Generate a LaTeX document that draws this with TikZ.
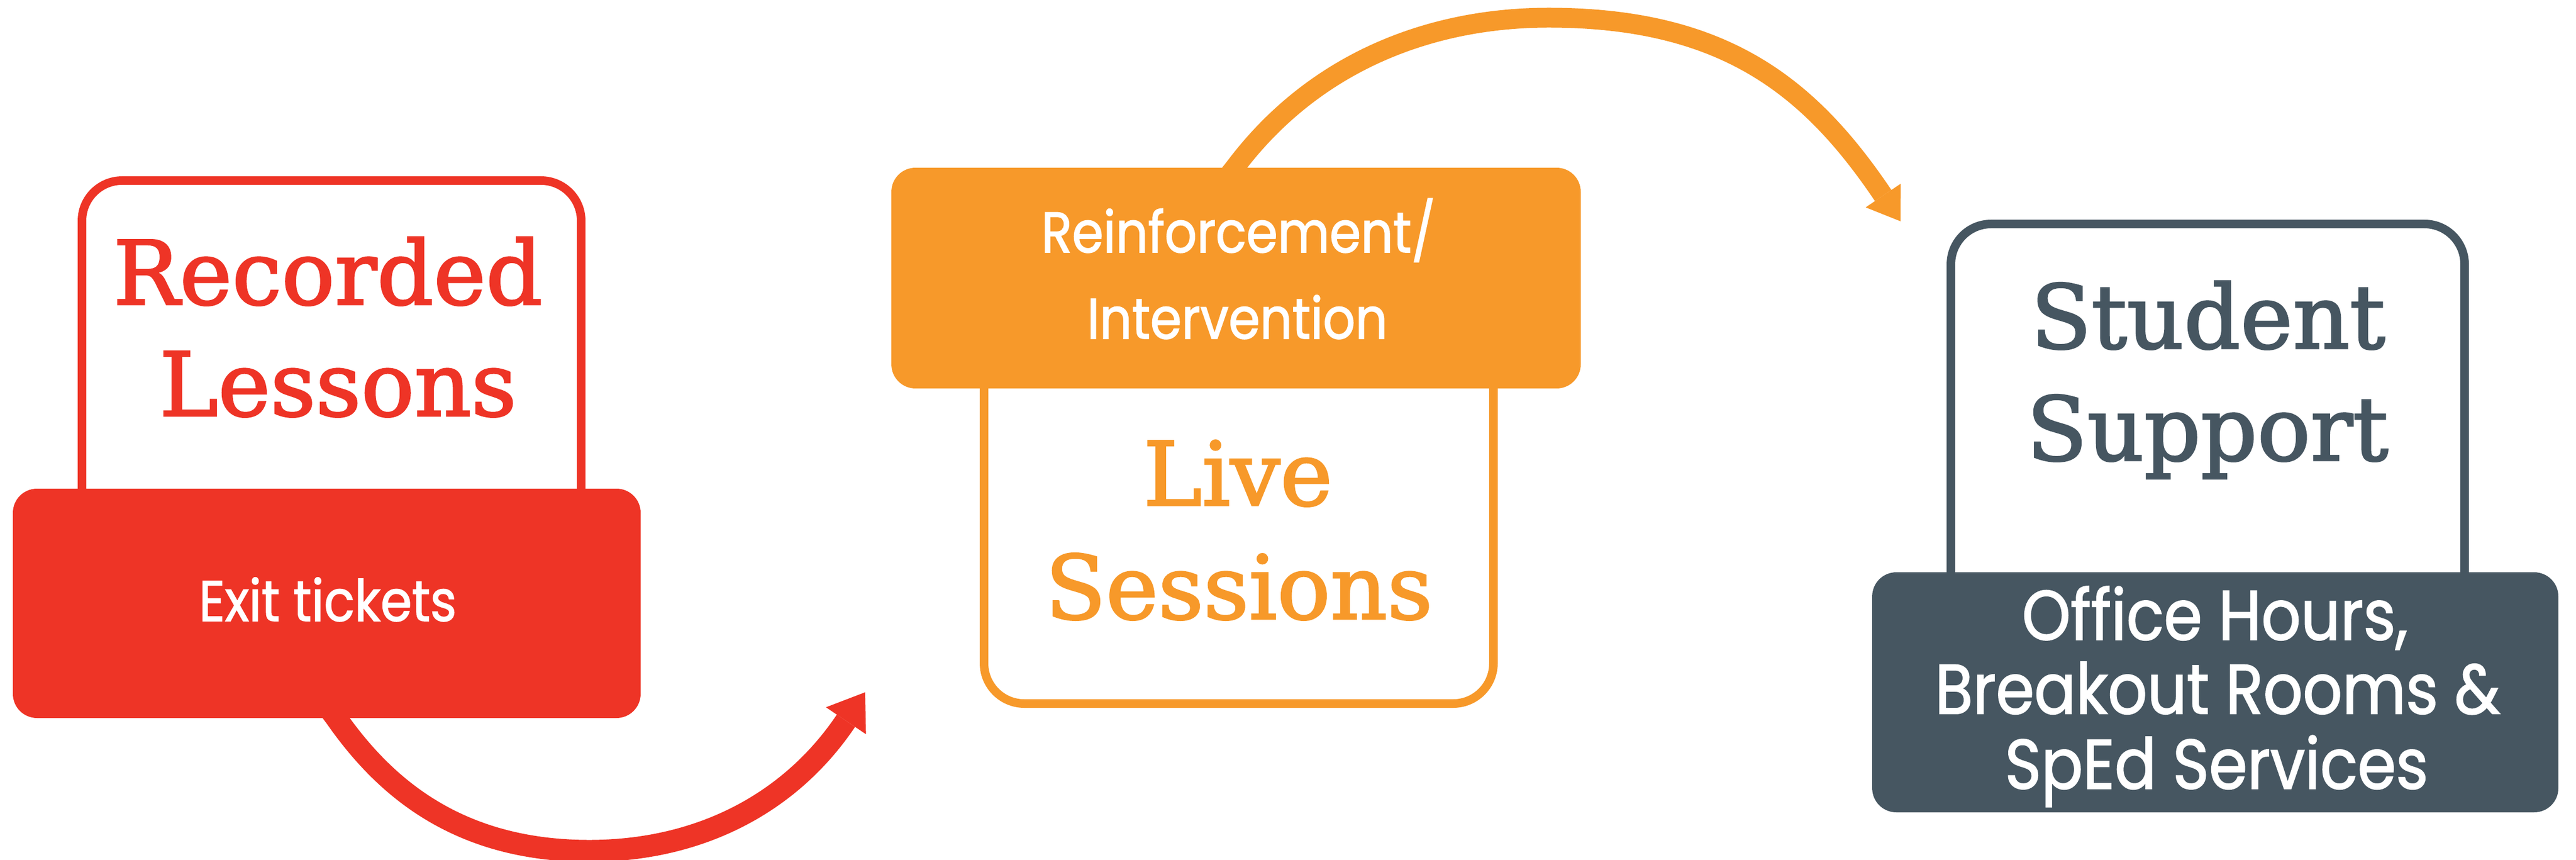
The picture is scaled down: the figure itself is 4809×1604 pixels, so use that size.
\documentclass[tikz,border=0pt]{standalone}
\usepackage{fontspec}
\setmainfont{DejaVu Serif}
\newfontfamily\slab[FakeBold=2]{DejaVu Serif}
\newfontfamily\geo[FakeStretch=0.88,FakeBold=1.5]{Poppins}
\usetikzlibrary{arrows.meta}
\definecolor{cred}{HTML}{EE3426}
\definecolor{corange}{HTML}{F7992A}
\definecolor{cslate}{HTML}{465661}
\begin{document}
\begin{tikzpicture}[x=0.1pt,y=-0.1pt,
  outlinebox/.style={draw=#1, line width=1.6pt, fill=white, rounded corners=7.5pt, inner sep=0pt},
  tabbox/.style={fill=#1, rounded corners=4.5pt, inner sep=0pt},
  headtext/.style={text=#1, font=\slab\fontsize{16.5pt}{20pt}\selectfont, inner sep=0pt, anchor=base},
  tabtext/.style={text=white, font=\geo\fontsize{10.7pt}{13pt}\selectfont, inner sep=0pt, anchor=base},
  bigtabtext/.style={text=white, font=\geo\fontsize{13.1pt}{15pt}\selectfont, inner sep=0pt, anchor=base},
  flowarrow/.style={draw=#1}
]
\useasboundingbox (0,0) rectangle (4809,1604);
% free ends of the connectors
\coordinate (rlow) at (1100,1588);
\coordinate (rtip) at (1615,1292);
\coordinate (otop) at (2891,33);
\coordinate (otip) at (3548,413);

% outline boxes
\node[outlinebox=cred, minimum width=93.2pt, minimum height=67.1pt, anchor=north] (rframe) at (619,329) {};
\node[outlinebox=corange, minimum width=95.1pt, minimum height=72.1pt, anchor=south] (oframe) at (2312.5,1321) {};
\node[outlinebox=cslate, minimum width=95.9pt, minimum height=74pt, anchor=north] (sframe) at (4121.5,410) {};

% tabs
\node[tabbox=cred, minimum width=117.2pt, minimum height=42.8pt] (rtab) at (610,1126) {};
\node[tabbox=corange, minimum width=128.7pt, minimum height=41.2pt] (otab) at (2307.5,519) {};
\node[tabbox=cslate, minimum width=128.1pt, minimum height=44.8pt] (stab) at (4135.5,1292) {};

% connectors
\draw[flowarrow=cred, line width=4.1pt, -{Triangle[length=6.4pt,width=9pt,line width=0pt]}]
  ([xshift=-1.2pt,yshift=4.2pt]rtab.south) -- (627,1339)
  .. controls (713,1462) and (848,1588) .. (rlow)
  .. controls (1305,1588) and (1475,1500) .. (rtip);
\draw[flowarrow=corange, line width=3.7pt, -{Triangle[length=5.8pt,width=7.9pt,line width=0pt]}]
  ([xshift=-3.25pt,yshift=-4pt]otab.north) -- (2305,313)
  .. controls (2455,113) and (2674,33) .. (otop)
  .. controls (3221,33) and (3380,164) .. (otip);

% texts
\node[headtext=cred] (rl1) at (612,568) {Recorded};
\node[headtext=cred] (rl2) at (631,776) {Lessons};
\node[tabtext] (rt1) at (612,1159) {Exit tickets};

\node[tabtext] (ot1) at (2312,471) {Reinforcement/};
\node[tabtext] (ot2) at (2310,632) {Intervention};
\node[headtext=corange] (ol1) at (2311,943) {Live};
\node[headtext=corange] (ol2) at (2313,1155) {Sessions};

\node[headtext=cslate] (sl1) at (4122,650) {Student};
\node[headtext=cslate] (sl2) at (4121,859) {Support};
\node[bigtabtext] (st1) at (4135,1194) {Office Hours,};
\node[bigtabtext] (st2) at (4140,1332) {Breakout Rooms \&};
\node[bigtabtext] (st3) at (4138,1472) {SpEd Services};
\end{tikzpicture}
\end{document}
